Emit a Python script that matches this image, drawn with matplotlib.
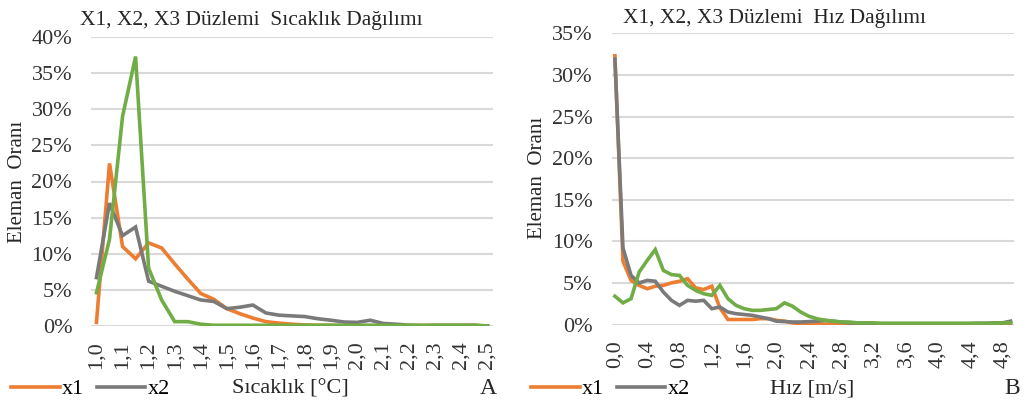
import matplotlib
matplotlib.use("Agg")
import matplotlib.pyplot as plt
from matplotlib.ticker import PercentFormatter

plt.rcParams['font.family'] = ['Liberation Serif', 'DejaVu Serif']

# ---------------- data ----------------
temp_cats = ["1,0", "1,05", "1,1", "1,15", "1,2", "1,25", "1,3", "1,35", "1,4", "1,45",
             "1,5", "1,55", "1,6", "1,65", "1,7", "1,75", "1,8", "1,85", "1,9", "1,95",
             "2,0", "2,05", "2,1", "2,15", "2,2", "2,25", "2,3", "2,35", "2,4", "2,45", "2,5"]
temp_x1 = [0.5, 22.5, 11.0, 9.3, 11.5, 10.8, 8.6, 6.5, 4.5, 3.7,
           2.4, 1.7, 1.1, 0.6, 0.4, 0.25, 0.15, 0.1, 0.1, 0.05,
           0.05, 0.05, 0.05, 0.05, 0.05, 0.05, 0.05, 0.05, 0.05, 0.05, 0.0]
temp_x2 = [6.7, 17.0, 12.5, 13.7, 6.2, 5.5, 4.8, 4.2, 3.6, 3.4,
           2.4, 2.6, 2.9, 1.8, 1.5, 1.4, 1.3, 1.0, 0.8, 0.55,
           0.5, 0.8, 0.35, 0.25, 0.1, 0.05, 0.1, 0.1, 0.1, 0.1, 0.0]
temp_x3 = [4.6, 12.0, 29.0, 37.3, 8.0, 3.6, 0.6, 0.6, 0.25, 0.1,
           0.1, 0.1, 0.1, 0.1, 0.1, 0.1, 0.1, 0.1, 0.1, 0.1,
           0.1, 0.1, 0.1, 0.1, 0.1, 0.1, 0.1, 0.1, 0.1, 0.1, 0.0]
temp_ticklabels = ["1,0", "1,1", "1,2", "1,3", "1,4", "1,5", "1,6", "1,7",
                   "1,8", "1,9", "2,0", "2,1", "2,2", "2,3", "2,4", "2,5"]

speed_cats = ["0,0", "0,1", "0,2", "0,3", "0,4", "0,5", "0,6", "0,7", "0,8", "0,9",
              "1,0", "1,1", "1,2", "1,3", "1,4", "1,5", "1,6", "1,7", "1,8", "1,9",
              "2,0", "2,1", "2,2", "2,3", "2,4", "2,5", "2,6", "2,7", "2,8", "2,9",
              "3,0", "3,1", "3,2", "3,3", "3,4", "3,5", "3,6", "3,7", "3,8", "3,9",
              "4,0", "4,1", "4,2", "4,3", "4,4", "4,5", "4,6", "4,7", "4,8", "4,9"]
speed_x1 = [32.3, 7.6, 5.3, 4.7, 4.3, 4.6, 4.7, 5.0, 5.2, 5.5,
            4.4, 4.2, 4.6, 2.0, 0.6, 0.6, 0.6, 0.6, 0.7, 0.7,
            0.5, 0.4, 0.2, 0.05, 0.05, 0.1, 0.05, 0.05, 0.05, 0.05,
            0.05, 0.05, 0.05, 0.05, 0.05, 0.05, 0.05, 0.05, 0.05, 0.05,
            0.05, 0.05, 0.05, 0.05, 0.05, 0.05, 0.05, 0.05, 0.05, 0.05]
speed_x2 = [31.9, 9.2, 5.9, 5.0, 5.3, 5.2, 3.9, 2.9, 2.3, 2.9,
            2.8, 2.9, 1.9, 2.1, 1.5, 1.3, 1.2, 1.1, 0.9, 0.7,
            0.4, 0.35, 0.3, 0.3, 0.35, 0.4, 0.5, 0.4, 0.3, 0.2,
            0.15, 0.1, 0.1, 0.1, 0.1, 0.1, 0.1, 0.1, 0.1, 0.1,
            0.1, 0.1, 0.1, 0.1, 0.1, 0.15, 0.15, 0.2, 0.2, 0.4]
speed_x3 = [3.4, 2.6, 3.1, 6.3, 7.7, 9.0, 6.5, 6.0, 5.9, 4.7,
            4.1, 3.7, 3.5, 4.7, 3.1, 2.3, 1.9, 1.7, 1.7, 1.8,
            1.9, 2.6, 2.2, 1.5, 1.0, 0.7, 0.5, 0.4, 0.3, 0.3,
            0.2, 0.2, 0.2, 0.15, 0.15, 0.15, 0.15, 0.15, 0.15, 0.15,
            0.15, 0.15, 0.15, 0.15, 0.15, 0.15, 0.15, 0.15, 0.2, 0.2]
speed_ticklabels = ["0,0", "0,4", "0,8", "1,2", "1,6", "2,0", "2,4",
                    "2,8", "3,2", "3,6", "4,0", "4,4", "4,8"]

series_names = ["x1", "x2", "x3"]
colors = ["#ED7D31", "#7A7A7A", "#70AD47"]

W, H = 1027, 405
fig = plt.figure(figsize=(W / 100, H / 100), dpi=100)


def px_axes(x0, x1, y0, y1):
    return fig.add_axes([x0 / W, 1 - y1 / H, (x1 - x0) / W, (y1 - y0) / H])


def style(ax, cats, ticklabels, step, ymax, ystep):
    n = len(cats)
    ax.set_xlim(-0.42, n - 1 + 0.42)
    ax.set_ylim(0, ymax)
    ax.set_yticks([v for v in range(0, ymax + 1, ystep)])
    ax.yaxis.set_major_formatter(PercentFormatter(decimals=0))
    ax.set_xticks(list(range(0, n, step))[:len(ticklabels)])
    ax.set_xticklabels(ticklabels, rotation=90)
    for s in ax.spines.values():
        s.set_visible(False)
    ax.grid(axis='y', color='#D9D9D9', linewidth=1.5)
    ax.set_axisbelow(True)
    ax.tick_params(axis='both', length=0, labelsize=16, colors='#333333')
    ax.tick_params(axis='y', pad=13.5)
    ax.tick_params(axis='x', pad=11)


# left chart
axL = px_axes(91, 493, 37, 326)
linesL = []
for vals, c, nm in zip([temp_x1, temp_x2, temp_x3], colors, series_names):
    l, = axL.plot(range(len(temp_cats)), vals, color=c, lw=2.6, label=nm,
                  solid_joinstyle='miter')
    linesL.append(l)
style(axL, temp_cats, temp_ticklabels, 2, 40, 5)

# right chart
axR = px_axes(611.5, 1014, 33.3, 324.5)
linesR = []
for vals, c, nm in zip([speed_x1, speed_x2, speed_x3], colors, series_names):
    l, = axR.plot(range(len(speed_cats)), vals, color=c, lw=2.6, label=nm,
                  solid_joinstyle='miter')
    linesR.append(l)
style(axR, speed_cats, speed_ticklabels, 4, 35, 5)


def ftext(x, y, s, **kw):
    fig.text(x / W, 1 - y / H, s, **kw)


txt_color = '#262626'
ftext(80, 21, "X1, X2, X3 Düzlemi  Sıcaklık Dağılımı", fontsize=15.5,
      ha='left', va='center', color=txt_color)
ftext(623, 18, "X1, X2, X3 Düzlemi  Hız Dağılımı", fontsize=15.5,
      ha='left', va='center', color=txt_color)

ftext(18, 182, "Eleman  Oranı", fontsize=15, rotation=90, ha='center',
      va='center', color=txt_color)
ftext(537, 178, "Eleman  Oranı", fontsize=15, rotation=90, ha='center',
      va='center', color=txt_color)

ftext(290, 389, "Sıcaklık [°C]", fontsize=16, ha='center', va='center', color=txt_color)
ftext(488, 389, "A", fontsize=17, ha='center', va='center', color=txt_color)
ftext(812, 389, "Hız [m/s]", fontsize=16, ha='center', va='center', color=txt_color)
ftext(1012, 389, "B", fontsize=17, ha='center', va='center', color=txt_color)

leg_kw = dict(loc='center left', ncol=2, frameon=False, fontsize=16,
              handlelength=2.2, handletextpad=0.1, columnspacing=0.55,
              borderaxespad=0, borderpad=0)
fig.legend(handles=linesL[:2], bbox_to_anchor=(11 / W, 1 - 389 / H), **leg_kw)
fig.legend(handles=linesR[:2], bbox_to_anchor=(531 / W, 1 - 389 / H), **leg_kw)

fig.savefig("out.png", dpi=100)
